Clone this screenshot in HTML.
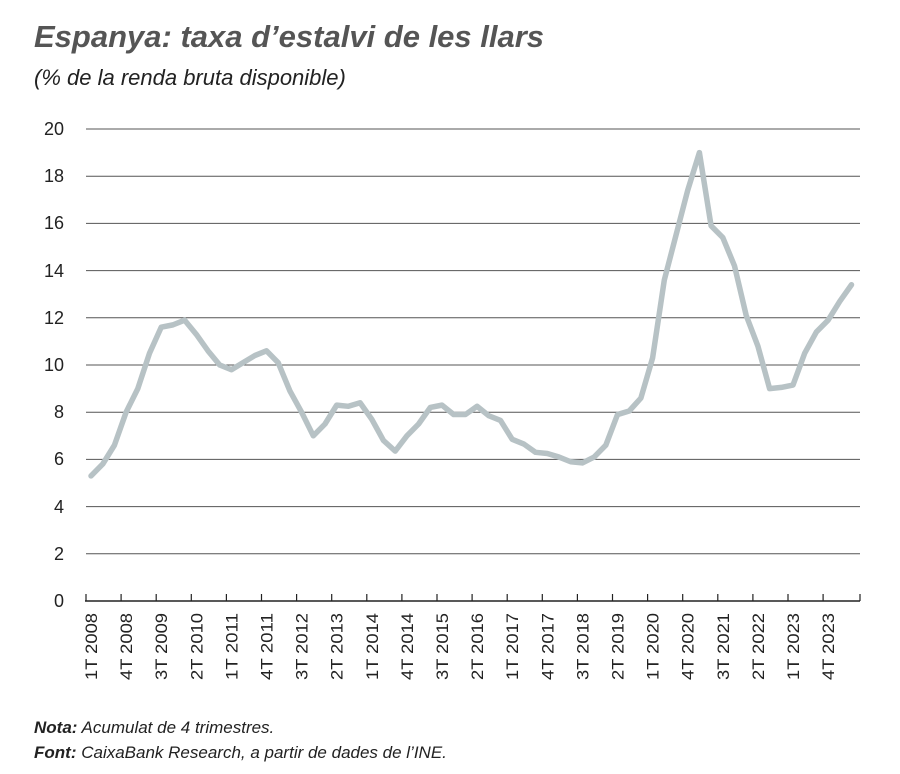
<!DOCTYPE html>
<html><head><meta charset="utf-8"><style>
body{margin:0;background:#fff;width:900px;height:769px;overflow:hidden;font-family:"Liberation Sans",sans-serif;}
</style></head><body>
<svg width="900" height="769" xmlns="http://www.w3.org/2000/svg" font-family="Liberation Sans, sans-serif">
<text x="34" y="47" font-size="31" font-weight="bold" font-style="italic" fill="#555">Espanya: taxa d’estalvi de les llars</text>
<text x="34" y="85" font-size="22" font-style="italic" fill="#222">(% de la renda bruta disponible)</text>
<g stroke="#555" stroke-width="1">
<line x1="86" x2="860" y1="129" y2="129"/><line x1="86" x2="860" y1="176.2" y2="176.2"/>
<line x1="86" x2="860" y1="223.4" y2="223.4"/><line x1="86" x2="860" y1="270.6" y2="270.6"/>
<line x1="86" x2="860" y1="317.8" y2="317.8"/><line x1="86" x2="860" y1="365" y2="365"/>
<line x1="86" x2="860" y1="412.2" y2="412.2"/><line x1="86" x2="860" y1="459.4" y2="459.4"/>
<line x1="86" x2="860" y1="506.6" y2="506.6"/><line x1="86" x2="860" y1="553.8" y2="553.8"/>
</g>
<line x1="85" x2="860" y1="601" y2="601" stroke="#222" stroke-width="1.5"/>
<g font-size="18" fill="#222" text-anchor="end">
<text x="64" y="135">20</text><text x="64" y="182">18</text><text x="64" y="229">16</text>
<text x="64" y="277">14</text><text x="64" y="324">12</text><text x="64" y="371">10</text>
<text x="64" y="418">8</text><text x="64" y="465">6</text><text x="64" y="513">4</text>
<text x="64" y="560">2</text><text x="64" y="607">0</text>
</g>
<g id="ticks" stroke="#222" stroke-width="1.2"></g>
<g id="xl" font-size="17" fill="#222"></g>
<polyline id="ln" fill="none" stroke="#b7c2c5" stroke-width="5.5" stroke-linejoin="round" stroke-linecap="round"/>
<text x="34" y="733" font-size="17" font-style="italic" fill="#222"><tspan font-weight="bold">Nota:</tspan> Acumulat de 4 trimestres.</text>
<text x="34" y="758" font-size="17" font-style="italic" fill="#222"><tspan font-weight="bold">Font:</tspan> CaixaBank Research, a partir de dades de l’INE.</text>
</svg>
<script>
var d=[5.3,5.8,6.6,8.0,9.0,10.5,11.6,11.7,11.9,11.3,10.6,10.0,9.8,10.1,10.4,10.6,10.1,8.9,8.0,7.0,7.5,8.3,8.25,8.4,7.7,6.8,6.35,7.0,7.5,8.2,8.3,7.9,7.9,8.25,7.85,7.65,6.85,6.65,6.3,6.25,6.1,5.9,5.85,6.1,6.6,7.9,8.05,8.6,10.3,13.6,15.5,17.4,19.0,15.9,15.4,14.2,12.1,10.8,9.0,9.05,9.15,10.5,11.4,11.9,12.7,13.4];
var X=function(i){return 91+i*11.7},Y=function(v){return 601-v*23.6};
document.getElementById('ln').setAttribute('points',d.map(function(v,i){return X(i)+','+Y(v)}).join(' '));
var ns="http://www.w3.org/2000/svg",t=document.getElementById('ticks'),xl=document.getElementById('xl');
function tick(x){var l=document.createElementNS(ns,'line');l.setAttribute('x1',x);l.setAttribute('x2',x);l.setAttribute('y1',594);l.setAttribute('y2',601);t.appendChild(l);}
for(var i=0;i<=63;i+=3){var x=X(i);tick(x-5);
var q=i%4+1,y=2008+Math.floor(i/4);var tx=document.createElementNS(ns,'text');tx.setAttribute('transform','translate('+(x+6)+',613) rotate(-90)');tx.setAttribute('text-anchor','end');tx.setAttribute('textLength','67');tx.setAttribute('lengthAdjust','spacingAndGlyphs');tx.textContent=q+'T '+y;xl.appendChild(tx);}
tick(860);
</script>
</body></html>
